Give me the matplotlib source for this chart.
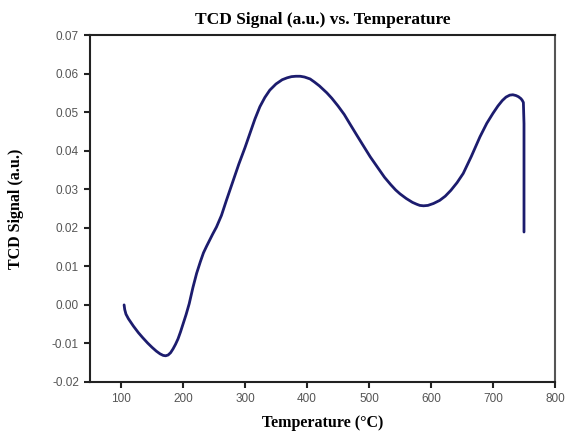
import matplotlib
matplotlib.use("Agg")
import matplotlib.pyplot as plt

temperature = [105, 106, 108, 112, 120, 128, 135, 143, 150, 157, 163, 168, 172, 176, 180,
               184, 188, 192, 196, 200, 205, 210, 216, 222, 228, 233, 238, 243, 248, 254,
               262, 270, 280, 290, 300, 308, 316, 324, 332, 340, 350, 360, 368, 375, 382,
               389, 396, 405, 412, 420, 426, 432, 440, 450, 460, 469, 480, 490, 502, 515,
               525, 535, 543, 550, 560, 570, 577, 582, 588, 595, 604, 614, 623, 632, 642,
               652, 665, 679, 690, 700, 708, 715, 721, 727, 732, 737, 741, 745, 747, 749,
               750, 750, 750]
tcd_signal = [0.0000, -0.0012, -0.0024, -0.0036, -0.0055, -0.0072, -0.0085, -0.0099, -0.0110,
              -0.0120, -0.0127, -0.0131, -0.0132, -0.0130, -0.0124, -0.0114, -0.0102, -0.0088,
              -0.0070, -0.0050, -0.0025, 0.0003, 0.0045, 0.0082, 0.0112, 0.0135, 0.0152,
              0.0168, 0.0184, 0.0202, 0.0232, 0.0271, 0.0318, 0.0365, 0.0408, 0.0445, 0.0482,
              0.0514, 0.0538, 0.0557, 0.0573, 0.0584, 0.0589, 0.0592, 0.0593, 0.0593, 0.0591,
              0.0586, 0.0578, 0.0568, 0.0559, 0.0550, 0.0536, 0.0516, 0.0494, 0.0470, 0.0441,
              0.0415, 0.0384, 0.0354, 0.0331, 0.0312, 0.0298, 0.0288, 0.0276, 0.0266, 0.0261,
              0.0258, 0.0257, 0.0258, 0.0263, 0.0271, 0.0282, 0.0297, 0.0317, 0.0341, 0.0385,
              0.0436, 0.0471, 0.0497, 0.0516, 0.0530, 0.0539, 0.0544, 0.0545, 0.0543, 0.0540,
              0.0535, 0.0531, 0.0525, 0.0470, 0.0300, 0.0189]
x_ticks = [100, 200, 300, 400, 500, 600, 700, 800]
y_ticks = [-0.02, -0.01, 0.00, 0.01, 0.02, 0.03, 0.04, 0.05, 0.06, 0.07]

fig = plt.figure(figsize=(5.68, 4.32), dpi=100)
ax = fig.add_axes([90/568, 1-382/432, (555-90)/568, (382-35)/432])
ax.plot(temperature, tcd_signal, color="#1c1c6e", linewidth=2.0, solid_capstyle="round",
        solid_joinstyle="round")
ax.set_xlim(50, 800)
ax.set_ylim(-0.02, 0.07)
ax.set_xticks(x_ticks)
ax.set_yticks(y_ticks)
ax.set_xticklabels([str(t) for t in x_ticks])
ax.set_yticklabels([f"{v:.2f}" for v in y_ticks])
ax.tick_params(direction="out", length=4, width=1.5, color="#222222",
               labelsize=8.5, labelcolor="#555555", pad=4)
for lab in ax.get_xticklabels() + ax.get_yticklabels():
    lab.set_family("Liberation Sans")
for s in ax.spines.values():
    s.set_linewidth(1.5)
    s.set_color("#222222")
ax.spines["right"].set_color("#555555")

serif = ["Liberation Serif", "DejaVu Serif"]
ax.set_title("TCD Signal (a.u.) vs. Temperature", family=serif, fontweight="bold",
             fontsize=12.5, pad=8)
ax.set_xlabel("Temperature (°C)", family=serif, fontweight="bold", fontsize=11.5, labelpad=7)
ax.set_ylabel("TCD Signal (a.u.)", family=serif, fontweight="bold", fontsize=11.5, labelpad=20)

fig.savefig("out.png", dpi=100)
